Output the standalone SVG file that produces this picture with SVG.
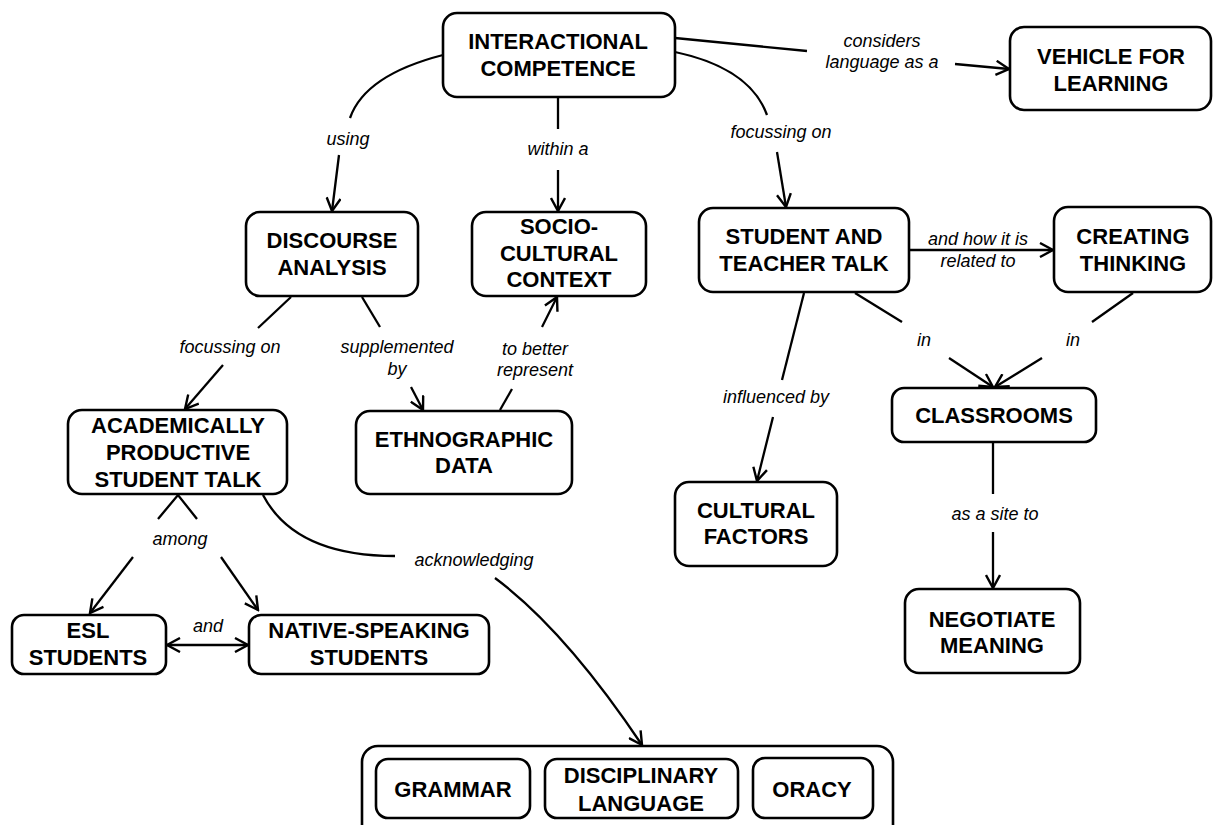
<svg xmlns="http://www.w3.org/2000/svg" width="1213" height="825" viewBox="0 0 1213 825">
<style>
.box{fill:#fff;stroke:#000;stroke-width:2.6}
.nt{font-family:"Liberation Sans",Arial,sans-serif;font-weight:bold;font-size:22px;fill:#000;text-anchor:middle}
.lt{font-family:"Liberation Sans",Arial,sans-serif;font-style:italic;font-size:18px;fill:#000;text-anchor:middle}
.ln{fill:none;stroke:#000;stroke-width:2.3}
.ar{marker-end:url(#arr)}
</style>
<defs>
<marker id="arr" viewBox="0 0 16 16" refX="14" refY="8" markerWidth="16" markerHeight="16" markerUnits="userSpaceOnUse" orient="auto-start-reverse">
<path d="M1,1 L14,8 L1,15" fill="none" stroke="#000" stroke-width="2.4"/>
</marker>
</defs>
<rect width="1213" height="825" fill="#fff"/>
<g id="connectors">
<path class="ln" d="M443,55 Q365,75 350,118"/>
<path class="ln ar" d="M339,155 L332,211"/>
<path class="ln" d="M558,97 L558,129"/>
<path class="ln ar" d="M558,170 L558,211"/>
<path class="ln" d="M675,52 Q750,68 767,115"/>
<path class="ln ar" d="M777,152 L786,207"/>
<path class="ln" d="M675,38 L807,51"/>
<path class="ln ar" d="M955,64 L1009,69"/>
<path class="ln" d="M291,297 L258,328"/>
<path class="ln ar" d="M223,365 L185,409"/>
<path class="ln" d="M362,297 L380,327"/>
<path class="ln ar" d="M411,387 L423,410"/>
<path class="ln" d="M500,410 L512,389"/>
<path class="ln ar" d="M542,327 L557,297"/>
<path class="ln ar" d="M909,250 L1053,250"/>
<path class="ln" d="M804,293 L782,380"/>
<path class="ln ar" d="M773,417 L757,481"/>
<path class="ln" d="M855,293 L902,322"/>
<path class="ln ar" d="M949,358 L993,387"/>
<path class="ln" d="M1133,293 L1092,322"/>
<path class="ln ar" d="M1042,358 L995,387"/>
<path class="ln" d="M993,442 L993,494"/>
<path class="ln ar" d="M993,532 L993,588"/>
<path class="ln" d="M158,519 L178,495 L197,519"/>
<path class="ln ar" d="M133,557 L90,613"/>
<path class="ln ar" d="M221,557 L258,610"/>
<path class="ln ar" d="M167,645 L248,645" marker-start="url(#arr)"/>
<path class="ln" d="M263,495 Q295,556 395,556"/>
<path class="ln ar" d="M495,578 Q565,630 642,745"/>
<path class="ln" d="M530,788 L545,788"/>
<path class="ln" d="M738,788 L753,788"/>
<text class="lt" x="348" y="145">using</text>
<text class="lt" x="558" y="155">within a</text>
<text class="lt" x="781" y="138">focussing on</text>
<text class="lt" x="882" y="47">considers</text>
<text class="lt" x="882" y="68">language as a</text>
<text class="lt" x="230" y="353">focussing on</text>
<text class="lt" x="397" y="353">supplemented</text>
<text class="lt" x="397" y="375">by</text>
<text class="lt" x="535" y="355">to better</text>
<text class="lt" x="535" y="376">represent</text>
<text class="lt" x="978" y="245">and how it is</text>
<text class="lt" x="978" y="267">related to</text>
<text class="lt" x="776" y="403">influenced by</text>
<text class="lt" x="924" y="346">in</text>
<text class="lt" x="1073" y="346">in</text>
<text class="lt" x="995" y="520">as a site to</text>
<text class="lt" x="180" y="545">among</text>
<text class="lt" x="208" y="632">and</text>
<text class="lt" x="474" y="566">acknowledging</text>
</g>
<g id="n-ic"><rect class="box" x="443" y="13" width="232" height="84" rx="14"/><text class="nt" x="558" y="49">INTERACTIONAL</text><text class="nt" x="558" y="76">COMPETENCE</text></g>
<g id="n-vehicle"><rect class="box" x="1010" y="27" width="201" height="83" rx="14"/><text class="nt" x="1111" y="64">VEHICLE FOR</text><text class="nt" x="1111" y="91">LEARNING</text></g>
<g id="n-da"><rect class="box" x="246" y="212" width="172" height="84" rx="14"/><text class="nt" x="332" y="248">DISCOURSE</text><text class="nt" x="332" y="275">ANALYSIS</text></g>
<g id="n-scc"><rect class="box" x="472" y="212" width="174" height="84" rx="14"/><text class="nt" x="559" y="234">SOCIO-</text><text class="nt" x="559" y="261">CULTURAL</text><text class="nt" x="559" y="287">CONTEXT</text></g>
<g id="n-stat"><rect class="box" x="699" y="208" width="210" height="84" rx="14"/><text class="nt" x="804" y="244">STUDENT AND</text><text class="nt" x="804" y="271">TEACHER TALK</text></g>
<g id="n-ct"><rect class="box" x="1054" y="207" width="157" height="85" rx="14"/><text class="nt" x="1133" y="244">CREATING</text><text class="nt" x="1133" y="271">THINKING</text></g>
<g id="n-apst"><rect class="box" x="68" y="410" width="219" height="84" rx="14"/><text class="nt" x="178" y="433">ACADEMICALLY</text><text class="nt" x="178" y="460">PRODUCTIVE</text><text class="nt" x="178" y="487">STUDENT TALK</text></g>
<g id="n-ed"><rect class="box" x="356" y="411" width="216" height="83" rx="14"/><text class="nt" x="464" y="447">ETHNOGRAPHIC</text><text class="nt" x="464" y="473">DATA</text></g>
<g id="n-class"><rect class="box" x="892" y="388" width="204" height="54" rx="12"/><text class="nt" x="994" y="423">CLASSROOMS</text></g>
<g id="n-cf"><rect class="box" x="675" y="482" width="162" height="84" rx="14"/><text class="nt" x="756" y="518">CULTURAL</text><text class="nt" x="756" y="544">FACTORS</text></g>
<g id="n-nm"><rect class="box" x="905" y="589" width="175" height="84" rx="14"/><text class="nt" x="992" y="627">NEGOTIATE</text><text class="nt" x="992" y="653">MEANING</text></g>
<g id="n-esl"><rect class="box" x="12" y="615" width="154" height="59" rx="12"/><text class="nt" x="88" y="638">ESL</text><text class="nt" x="88" y="665">STUDENTS</text></g>
<g id="n-nss"><rect class="box" x="249" y="615" width="240" height="59" rx="12"/><text class="nt" x="369" y="638">NATIVE-SPEAKING</text><text class="nt" x="369" y="665">STUDENTS</text></g>
<g id="n-container"><rect class="box" x="362" y="746" width="531" height="100" rx="16"/></g>
<g id="n-grammar"><rect class="box" x="376" y="759" width="154" height="59" rx="12"/><text class="nt" x="453" y="797">GRAMMAR</text></g>
<g id="n-dl"><rect class="box" x="545" y="759" width="193" height="59" rx="12"/><text class="nt" x="641" y="783">DISCIPLINARY</text><text class="nt" x="641" y="811">LANGUAGE</text></g>
<g id="n-oracy"><rect class="box" x="753" y="758" width="120" height="60" rx="12"/><text class="nt" x="812" y="797">ORACY</text></g>
</svg>
